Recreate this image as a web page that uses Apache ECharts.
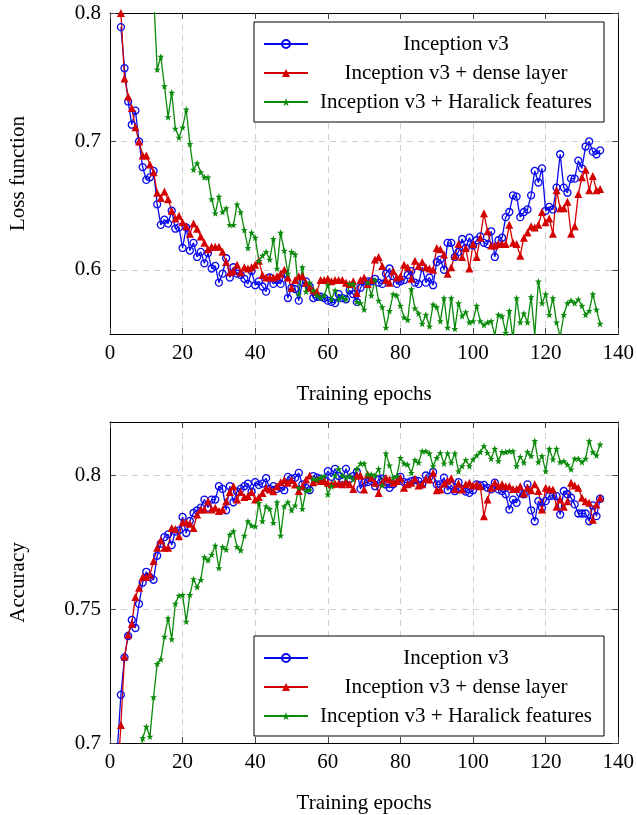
<!DOCTYPE html>
<html><head><meta charset="utf-8">
<script src="https://cdn.jsdelivr.net/npm/echarts@6/dist/echarts.min.js"></script>
<style>html,body{margin:0;padding:0;background:#fff}#c{width:637px;height:815px}</style>
</head><body><div id="c"></div>
<script>
// epochs 2..135
const epochs = [];
for (let e = 2; e <= 135; e++) epochs.push(e);

const seriesNames = ['Inception v3', 'Inception v3 + dense layer', 'Inception v3 + Haralick features'];
const xTicks = [0, 20, 40, 60, 80, 100, 120, 140];
const lossTicks = [0.6, 0.7, 0.8];
const accTicks = [0.7, 0.75, 0.8];

const blueLoss = [
null,0.789,0.757,0.731,0.713,0.724,0.700,0.680,0.670,0.672,
0.677,0.651,0.635,0.639,0.636,0.646,0.632,0.633,0.617,0.633,
0.615,0.621,0.610,0.614,0.605,0.613,0.601,0.603,0.590,0.597,
0.609,0.594,0.602,0.597,0.596,0.593,0.589,0.599,0.588,0.591,
0.587,0.583,0.594,0.589,0.592,0.589,0.597,0.578,0.586,0.585,
0.576,0.590,0.591,0.587,0.578,0.579,0.579,0.578,0.576,0.575,
0.574,0.581,0.578,0.577,0.584,0.581,0.575,0.586,0.591,0.591,
0.591,0.593,0.590,0.589,0.597,0.601,0.595,0.589,0.591,0.592,
0.596,0.599,0.590,0.589,0.602,0.590,0.594,0.588,0.606,0.608,
0.600,0.621,0.621,0.610,0.614,0.624,0.617,0.625,0.619,0.623,
0.626,0.621,0.620,0.630,0.610,0.623,0.625,0.641,0.645,0.658,
0.657,0.641,0.645,0.647,0.658,0.677,0.668,0.679,0.646,0.649,
0.647,0.664,0.690,0.664,0.660,0.671,0.671,0.685,0.679,0.696,
0.700,0.692,0.690,0.693];

const redLoss = [
null,0.800,0.749,0.735,0.726,0.711,0.700,0.689,0.689,0.682,
0.676,0.660,0.656,0.661,0.655,0.646,0.640,0.642,0.637,0.634,
0.628,0.636,0.632,0.626,0.621,0.616,0.618,0.618,0.618,0.614,
0.606,0.598,0.599,0.604,0.598,0.602,0.601,0.602,0.604,0.607,
0.596,0.594,0.594,0.594,0.595,0.597,0.600,0.594,0.586,0.592,
0.595,0.595,0.590,0.586,0.584,0.583,0.592,0.592,0.593,0.591,
0.592,0.592,0.592,0.590,0.589,0.591,0.582,0.592,0.594,0.589,
0.592,0.608,0.610,0.603,0.592,0.590,0.599,0.594,0.595,0.604,
0.602,0.593,0.607,0.603,0.606,0.602,0.601,0.600,0.617,0.616,
0.612,0.597,0.602,0.611,0.620,0.610,0.617,0.601,0.620,0.610,
0.625,0.644,0.630,0.619,0.619,0.620,0.620,0.620,0.635,0.621,
0.620,0.611,0.625,0.629,0.634,0.633,0.635,0.645,0.637,0.640,
0.628,0.662,0.648,0.648,0.653,0.628,0.634,0.659,0.672,0.678,
0.662,0.673,0.662,0.663];

const greenLoss = [
null,null,null,null,null,null,null,null,null,null,
0.815,0.756,0.766,0.743,0.719,0.738,0.710,0.703,0.711,0.725,
0.698,0.678,0.683,0.676,0.672,0.672,0.655,0.644,0.657,0.645,
0.648,0.635,0.635,0.651,0.645,0.631,0.617,0.629,0.625,0.607,
0.611,0.614,0.608,0.624,0.601,0.629,0.615,0.597,0.614,0.612,
0.581,0.602,0.583,0.590,0.584,0.580,0.578,0.580,0.588,0.577,
0.584,0.577,0.579,0.577,0.589,0.589,0.575,0.574,0.569,0.590,
0.580,0.592,0.576,0.571,0.555,0.568,0.581,0.580,0.572,0.563,
0.561,0.585,0.570,0.566,0.558,0.565,0.556,0.573,0.571,0.560,
0.578,0.555,0.578,0.554,0.574,0.564,0.567,0.559,0.560,0.572,
0.560,0.557,0.559,0.560,0.549,0.565,0.564,0.551,0.568,0.546,
0.578,0.559,0.566,0.559,0.579,0.549,0.591,0.574,0.581,0.565,
0.578,0.559,0.548,0.565,0.574,0.576,0.574,0.577,0.572,0.565,
0.568,0.581,0.569,0.558];

const blueAcc = [
0.697,0.718,0.732,0.740,0.746,0.743,0.752,0.760,0.764,0.762,
0.761,0.770,0.7745,0.777,0.778,0.774,0.779,0.7795,0.7845,0.7785,
0.783,0.786,0.787,0.788,0.791,0.788,0.791,0.791,0.796,0.795,
0.787,0.796,0.790,0.794,0.795,0.796,0.797,0.794,0.7975,0.7965,
0.797,0.799,0.795,0.796,0.795,0.7955,0.7945,0.7995,0.7988,0.7991,
0.801,0.7967,0.7954,0.7945,0.7998,0.7992,0.7988,0.7983,0.8016,0.7995,
0.8025,0.7998,0.7988,0.8025,0.7988,0.7998,0.8013,0.795,0.7973,0.7975,
0.7979,0.796,0.7985,0.7988,0.7967,0.7954,0.7967,0.7985,0.7995,0.7975,
0.7973,0.7979,0.7983,0.7979,0.7967,0.800,0.7995,0.8013,0.7967,0.7967,
0.7992,0.7945,0.7963,0.7942,0.7975,0.795,0.794,0.7935,0.7945,0.7967,
0.7963,0.7965,0.7954,0.7948,0.7973,0.7948,0.7942,0.793,0.7873,0.791,
0.7898,0.7933,0.793,0.7967,0.787,0.7829,0.7904,0.7879,0.7904,0.7923,
0.7925,0.7923,0.7854,0.7942,0.793,0.7917,0.7892,0.7858,0.7858,0.7858,
0.7829,0.7888,0.7848,0.7913];

const redAcc = [
0.685,0.7067,0.7323,0.7405,0.7446,0.7546,0.758,0.7621,0.7621,0.763,
0.768,0.773,0.7758,0.773,0.773,0.7804,0.780,0.7773,0.7825,0.7825,
0.782,0.7804,0.7854,0.7873,0.7873,0.7904,0.7873,0.7879,0.7867,0.7873,
0.7904,0.7938,0.796,0.791,0.7938,0.792,0.7923,0.7938,0.791,0.792,
0.7935,0.7954,0.7948,0.7941,0.796,0.7975,0.7983,0.7973,0.7983,0.7966,
0.7942,0.796,0.7985,0.800,0.7975,0.7985,0.7979,0.7979,0.7973,0.7967,
0.797,0.797,0.7967,0.7975,0.7967,0.795,0.800,0.800,0.7948,0.8004,
0.7992,0.7973,0.7935,0.7975,0.7992,0.7985,0.7973,0.7979,0.7992,0.7954,
0.7967,0.7973,0.7988,0.7963,0.7967,0.7988,0.7985,0.801,0.7945,0.7948,
0.797,0.798,0.799,0.795,0.797,0.7948,0.7967,0.7973,0.7963,0.7967,
0.796,0.7848,0.791,0.7954,0.7973,0.796,0.7967,0.796,0.796,0.795,
0.795,0.796,0.7933,0.7954,0.7945,0.7967,0.7942,0.7873,0.7954,0.795,
0.7948,0.7883,0.791,0.7883,0.7904,0.7973,0.7963,0.7954,0.7917,0.7904,
0.7898,0.7835,0.7892,0.7917];

const greenAcc = [
null,null,null,null,null,null,0.690,0.7018,0.7061,0.7024,
0.7171,0.7296,0.7313,0.7398,0.7467,0.7388,0.7521,0.7551,0.7554,0.7454,
0.7554,0.7613,0.7583,0.761,0.7695,0.7683,0.7704,0.7738,0.7654,0.7733,
0.7723,0.7779,0.7792,0.7733,0.772,0.7775,0.7829,0.7813,0.781,0.7898,
0.7829,0.7885,0.7875,0.7823,0.790,0.7775,0.7885,0.790,0.787,0.7888,
0.7954,0.7875,0.7945,0.7945,0.7988,0.7985,0.7992,0.7998,0.7929,0.796,
0.800,0.8025,0.800,0.7992,0.7998,0.7985,0.8025,0.8045,0.8045,0.8004,
0.8004,0.800,0.8025,0.7963,0.8083,0.8038,0.7992,0.7998,0.8066,0.8045,
0.8041,0.801,0.8058,0.8048,0.8091,0.8091,0.8083,0.8035,0.8066,0.8085,
0.8045,0.8083,0.8048,0.8083,0.8016,0.8035,0.8058,0.8035,0.806,0.8075,
0.8088,0.811,0.8085,0.8063,0.810,0.8054,0.8088,0.8088,0.8091,0.8091,
0.8035,0.807,0.8048,0.8088,0.8073,0.8129,0.805,0.8073,0.8016,0.810,
0.806,0.810,0.805,0.8054,0.8041,0.8023,0.8063,0.8063,0.805,0.8063,
0.8129,0.8088,0.8075,0.8116];

const FONT = "'Liberation Serif','Times New Roman',serif";
const FS = 21;
const BLUE = '#0808ee', RED = '#d40000', GREEN = '#0a8a0a';
const STAR = 'path://M0,-10 L2.35,-3.24 L9.51,-3.09 L3.8,1.24 L5.88,8.09 L0,4 L-5.88,8.09 L-3.8,1.24 L-9.51,-3.09 L-2.35,-3.24 Z';

function pairs(arr) {
  const out = [];
  epochs.forEach((e, i) => { if (arr[i] !== null) out.push([e, arr[i]]); });
  return out;
}
function fmt(v) { return (Math.round(v * 100) / 100).toString(); }

const gridLine = { show: true, lineStyle: { color: '#cfcfcf', type: [6, 5], width: 1 } };
const tick = { show: true, inside: true, length: 6, lineStyle: { color: '#444' } };
const axLine = { show: true, onZero: false, lineStyle: { color: '#000', width: 1 } };

function xAxes(gi) {
  return [
    { type: 'value', gridIndex: gi, min: 0, max: 140, interval: 20, position: 'bottom',
      axisLine: axLine, axisTick: tick, splitLine: gridLine,
      axisLabel: { color: '#000', fontFamily: FONT, fontSize: FS, margin: 9 },
      name: 'Training epochs', nameLocation: 'middle', nameGap: 50,
      nameTextStyle: { color: '#000', fontFamily: FONT, fontSize: FS } },
    { type: 'value', gridIndex: gi, min: 0, max: 140, interval: 20, position: 'top',
      axisLine: axLine, axisTick: tick, splitLine: { show: false }, axisLabel: { show: false } }
  ];
}
function yAxes(gi, min, max, ticks, name) {
  return [
    { type: 'value', gridIndex: gi, min: min, max: max, position: 'left',
      axisLine: axLine, axisTick: Object.assign({ customValues: ticks }, tick),
      splitLine: gridLine,
      axisLabel: { customValues: ticks, formatter: fmt, color: '#000', fontFamily: FONT, fontSize: FS, margin: 9 },
      name: name, nameLocation: 'middle', nameGap: 81, nameRotate: 90,
      nameTextStyle: { color: '#000', fontFamily: FONT, fontSize: FS } },
    { type: 'value', gridIndex: gi, min: min, max: max, position: 'right',
      axisLine: axLine, axisTick: Object.assign({ customValues: ticks }, tick),
      splitLine: { show: false }, axisLabel: { show: false } }
  ];
}

function mkSeries(gi, b, r, g) {
  const xi = gi * 2, yi = gi * 2;
  return [
    { name: seriesNames[0], type: 'line', xAxisIndex: xi, yAxisIndex: yi, data: pairs(b),
      symbol: 'circle', symbolSize: 7, clip: true,
      lineStyle: { color: BLUE, width: 1.3 },
      itemStyle: { color: 'rgba(255,255,255,0)', borderColor: BLUE, borderWidth: 1.3 } },
    { name: seriesNames[1], type: 'line', xAxisIndex: xi, yAxisIndex: yi, data: pairs(r),
      symbol: 'triangle', symbolSize: 8, clip: true,
      lineStyle: { color: RED, width: 1.3 },
      itemStyle: { color: RED } },
    { name: seriesNames[2], type: 'line', xAxisIndex: xi, yAxisIndex: yi, data: pairs(g),
      symbol: STAR, symbolSize: 7, clip: true,
      lineStyle: { color: GREEN, width: 1.3 },
      itemStyle: { color: GREEN } }
  ];
}

function legend(top) {
  return {
    data: seriesNames, orient: 'vertical', left: 254, top: top,
    width: 349, itemWidth: 44, itemHeight: 10, itemGap: 7,
    padding: [11, 5, 9, 9],
    borderColor: '#000', borderWidth: 1, backgroundColor: '#fff',
    selectedMode: false,
    formatter: n => '{a|' + n + '}',
    textStyle: { color: '#000', fontFamily: FONT, fontSize: FS,
      rich: { a: { width: 286, align: 'center', height: 22, lineHeight: 22, fontFamily: FONT, fontSize: FS } } }
  };
}

const chart = echarts.init(document.getElementById('c'), null, { renderer: 'canvas' });
chart.setOption({
  animation: false,
  backgroundColor: '#fff',
  grid: [
    { left: 109, top: 13, width: 510, height: 321 },
    { left: 109, top: 422, width: 510, height: 321 }
  ],
  xAxis: [].concat(xAxes(0), xAxes(1)),
  yAxis: [].concat(yAxes(0, 0.55, 0.8, lossTicks, 'Loss function'), yAxes(1, 0.7, 0.82, accTicks, 'Accuracy')),
  legend: [legend(22), legend(636)],
  series: [].concat(mkSeries(0, blueLoss, redLoss, greenLoss), mkSeries(1, blueAcc, redAcc, greenAcc))
});
</script>
</body></html>
